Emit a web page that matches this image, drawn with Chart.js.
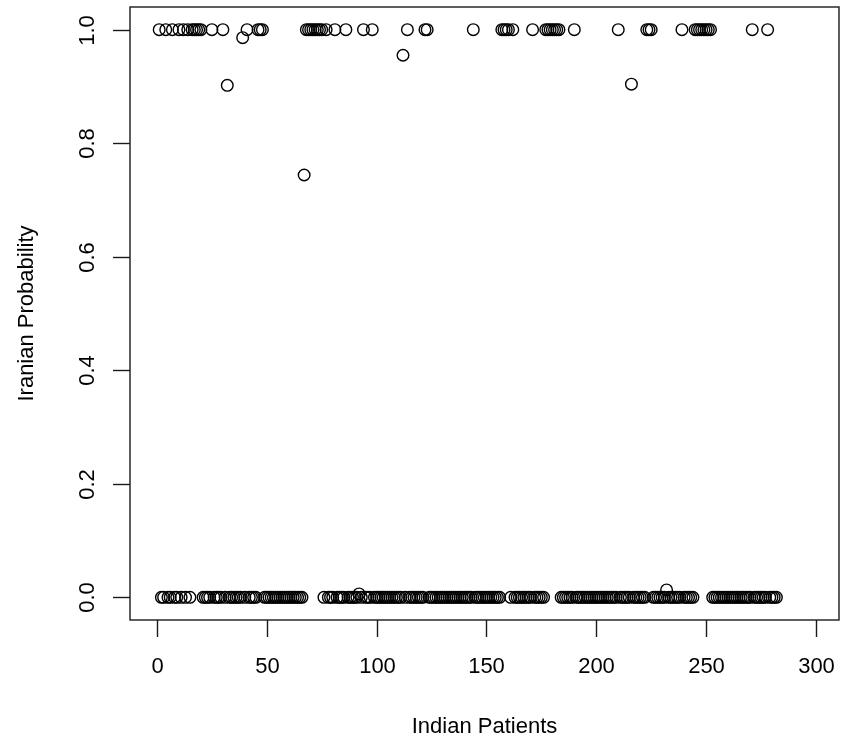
<!DOCTYPE html>
<html>
<head>
<meta charset="utf-8">
<title>Iranian Probability</title>
<script src="https://cdn.jsdelivr.net/npm/chart.js@4.4.0/dist/chart.umd.min.js"></script>
<style>
    html, body { margin: 0; padding: 0; background: #ffffff; }
    #wrap { width: 847px; height: 745px; }
</style>
</head>
<body>
<div id="wrap"><canvas id="grafico" width="847" height="745"></canvas></div>
<script>
// Probabilidade "Iranian" para cada paciente indiano (pacientes 1..282)
const probPacientes = [
    // 1-20
    1, 0, 0, 1, 0, 0, 1, 0, 0, 1, 0, 1, 0, 1, 0, 1, 1, 1, 1, 1,
    // 21-40
    0, 0, 0, 0, 1, 0, 0, 0, 0, 1, 0, 0.902, 0, 0, 0, 0, 0, 0, 0.986, 0,
    // 41-60
    1, 0, 0, 0, 0, 1, 1, 1, 0, 0, 0, 0, 0, 0, 0, 0, 0, 0, 0, 0,
    // 61-80
    0, 0, 0, 0, 0, 0, 0.744, 1, 1, 1, 1, 1, 1, 1, 1, 0, 1, 0, 0, 0,
    // 81-100
    1, 0, 0, 0, 0, 1, 0, 0, 0, 0, 0, 0.006, 0, 1, 0, 0, 0, 1, 0, 0,
    // 101-120
    0, 0, 0, 0, 0, 0, 0, 0, 0, 0, 0, 0.955, 0, 1, 0, 0, 0, 0, 0, 0,
    // 121-140
    0, 1, 1, 0, 0, 0, 0, 0, 0, 0, 0, 0, 0, 0, 0, 0, 0, 0, 0, 0,
    // 141-160
    0, 0, 0, 1, 0, 0, 0, 0, 0, 0, 0, 0, 0, 0, 0, 0, 1, 1, 1, 1,
    // 161-180
    0, 1, 0, 0, 0, 0, 0, 0, 0, 0, 1, 0, 0, 0, 0, 0, 1, 1, 1, 1,
    // 181-200
    1, 1, 1, 0, 0, 0, 0, 0, 0, 1, 0, 0, 0, 0, 0, 0, 0, 0, 0, 0,
    // 201-220
    0, 0, 0, 0, 0, 0, 0, 0, 0, 1, 0, 0, 0, 0, 0, 0.904, 0, 0, 0, 0,
    // 221-240
    0, 0, 1, 1, 1, 0, 0, 0, 0, 0, 0, 0.013, 0, 0, 0, 0, 0, 0, 1, 0,
    // 241-260
    0, 0, 0, 0, 1, 1, 1, 1, 1, 1, 1, 1, 0, 0, 0, 0, 0, 0, 0, 0,
    // 261-280
    0, 0, 0, 0, 0, 0, 0, 0, 0, 0, 1, 0, 0, 0, 0, 0, 0, 1, 0, 0,
    // 281-282
    0, 0
];

// Marcas dos eixos
const xTicks = [0, 50, 100, 150, 200, 250, 300];
const yTicks = [0, 0.2, 0.4, 0.6, 0.8, 1.0];
const yTickLabels = ['0.0', '0.2', '0.4', '0.6', '0.8', '1.0'];

const xTitulo = 'Indian Patients';
const yTitulo = 'Iranian Probability';

const fonte = '22px "Liberation Sans", Arial, Helvetica, sans-serif';
const corTraco = '#1a1a1a';

// Plugin para desenhar a moldura e os eixos no estilo do R
const eixosR = {
    id: 'eixosR',
    afterDraw(chart) {
        const ctx = chart.ctx;
        const area = chart.chartArea;
        const sx = chart.scales.x;
        const sy = chart.scales.y;
        const tick = 17;

        ctx.save();
        ctx.strokeStyle = corTraco;
        ctx.lineWidth = 1.4;

        // moldura
        ctx.strokeRect(area.left, area.top, area.right - area.left, area.bottom - area.top);

        // eixo x
        ctx.fillStyle = '#000';
        ctx.font = fonte;
        ctx.textAlign = 'center';
        ctx.textBaseline = 'middle';
        xTicks.forEach(v => {
            const px = Math.round(sx.getPixelForValue(v)) + 0.5;
            ctx.beginPath();
            ctx.moveTo(px, area.bottom);
            ctx.lineTo(px, area.bottom + tick);
            ctx.stroke();
            ctx.fillText(String(v), px, area.bottom + 47);
        });
        ctx.fillText(xTitulo, (area.left + area.right) / 2, area.bottom + 107);

        // eixo y (rótulos girados)
        yTicks.forEach((v, i) => {
            const py = Math.round(sy.getPixelForValue(v)) + 0.5;
            ctx.beginPath();
            ctx.moveTo(area.left, py);
            ctx.lineTo(area.left - tick, py);
            ctx.stroke();
            ctx.save();
            ctx.translate(area.left - 42, py);
            ctx.rotate(-Math.PI / 2);
            ctx.fillText(yTickLabels[i], 0, 0);
            ctx.restore();
        });
        ctx.save();
        ctx.translate(area.left - 103, (area.top + area.bottom) / 2);
        ctx.rotate(-Math.PI / 2);
        ctx.fillText(yTitulo, 0, 0);
        ctx.restore();

        ctx.restore();
    }
};

function initGrafico() {
    const pontos = probPacientes.map((p, i) => ({ x: i + 1, y: p }));
    console.log("Pacientes:", pontos.length);

    new Chart(document.getElementById('grafico'), {
        type: 'scatter',
        data: {
            datasets: [{
                label: yTitulo,
                data: pontos,
                pointStyle: 'circle',
                pointRadius: 5.8,
                pointHoverRadius: 5.8,
                borderColor: '#000',
                backgroundColor: 'rgba(0,0,0,0)',
                borderWidth: 1.4
            }]
        },
        options: {
            responsive: false,
            animation: false,
            devicePixelRatio: 1,
            layout: {
                autoPadding: false,
                padding: { left: 130, right: 8, top: 7, bottom: 125 }
            },
            scales: {
                x: { type: 'linear', min: -12.29, max: 310.5, display: false },
                y: { type: 'linear', min: -0.04, max: 1.04, display: false }
            },
            plugins: {
                legend: { display: false },
                tooltip: { enabled: false }
            }
        },
        plugins: [eixosR]
    });
}

initGrafico();
</script>
</body>
</html>
